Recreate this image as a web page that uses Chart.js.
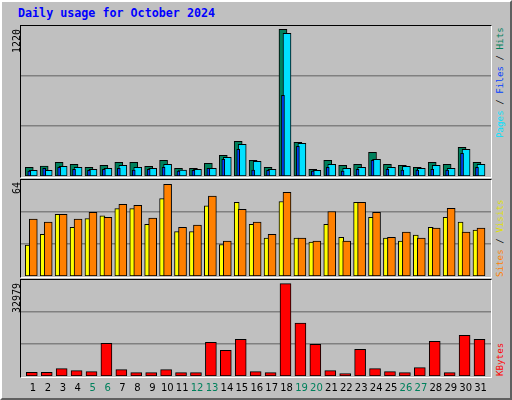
<!DOCTYPE html>
<html>
<head>
<meta charset="utf-8">
<script src="https://cdn.jsdelivr.net/npm/chart.js@4.4.0/dist/chart.umd.min.js"></script>
<style>
  body { margin: 0; background: #c0c0c0; }
  #frame { position: absolute; left: 0; top: 0; width: 508px; height: 396px;
           border-style: solid; border-width: 2px; border-color: #fff #606060 #606060 #fff; background: #c0c0c0; }
  .panel { position: absolute; left: 20px; width: 470px; border-style: solid; border-width: 1px;
           border-color: #000 #fff #fff #000; }
  .panel canvas { display: block; }
  .txt { position: absolute; font-family: "DejaVu Sans Mono", monospace; white-space: nowrap; }
  .up { transform-origin: 0 0; transform: rotate(-90deg); }
  .day { position: absolute; top: 382px; font-family: "DejaVu Sans", sans-serif; font-size: 10px; width: 20px; text-align: center; }
</style>
</head>
<body>
<div id="frame"></div>
<div class="txt" style="left:18px;top:6px;font-size:11.7px;font-weight:bold;color:#0000ff">Daily usage for October 2024</div>

<div class="panel" style="top:25px;height:151px"><canvas id="c1"></canvas></div>
<div class="panel" style="top:179px;height:97px"><canvas id="c2"></canvas></div>
<div class="panel" style="top:279px;height:97px"><canvas id="c3"></canvas></div>

<div class="txt up" style="left:11px;top:53px;font-size:10px">1220</div>
<div class="txt up" style="left:11px;top:194px;font-size:10px">64</div>
<div class="txt up" style="left:11px;top:313px;font-size:10px">32979</div>

<div class="txt up" style="left:494px;top:138px;font-size:9.2px"><span style="color:#00e0ff">Pages</span> / <span style="color:#0040ff">Files</span> / <span style="color:#00805c">Hits</span></div>
<div class="txt up" style="left:494px;top:277px;font-size:9.2px"><span style="color:#ff8000">Sites</span> / <span style="color:#e0e000">Visits</span></div>
<div class="txt up" style="left:494px;top:376px;font-size:9.2px;color:#ff0000">KBytes</div>

<div id="days"></div>

<script>
// valores
const dias = Array.from({length: 31}, (_, i) => i + 1);
const fimDeSemana = [5, 6, 12, 13, 19, 20, 26, 27];

const hits   = [72, 82, 114, 97, 72, 89, 114, 114, 80, 130, 64, 64, 105, 172, 288, 130, 72, 1220, 280, 56, 130, 89, 97, 197, 97, 89, 72, 114, 97, 239, 114];
const files  = [47, 47, 80, 72, 56, 64, 89, 72, 64, 97, 50, 56, 64, 155, 263, 122, 56, 1186, 272, 47, 97, 64, 72, 139, 72, 80, 64, 89, 64, 222, 97];
const pages  = [40, 64, 72, 56, 47, 56, 64, 50, 56, 72, 40, 47, 64, 139, 222, 50, 47, 670, 247, 40, 72, 40, 56, 130, 56, 50, 50, 56, 50, 189, 72];

const visits = [21.6, 29, 43, 34, 40, 42, 47, 47, 36, 54, 31, 31, 49, 22, 51.5, 36, 26.5, 52, 26.5, 23.7, 36, 27, 51.5, 41, 26.5, 24.4, 28.5, 34, 41, 37.6, 32];
const sites  = [39.7, 37.6, 43, 39.7, 44.5, 41, 50, 49.4, 40.4, 64, 34, 35.5, 55.7, 24.4, 46.6, 37.6, 29, 58.4, 26.5, 24.4, 45, 24.4, 51.5, 44.5, 27, 30.6, 26.5, 33.4, 47.3, 30.6, 33.4];

const kbytes = [1320, 1320, 2650, 1920, 1560, 11660, 2280, 1200, 1200, 2280, 1200, 1200, 12020, 9140, 13100, 1560, 1200, 32979, 18880, 11300, 1920, 840, 9500, 2650, 1560, 1200, 3000, 12380, 1200, 14550, 13100];

const X_MIN = 0.176, X_MAX = 31.67;

function pontos(valores, desloc) {
    return valores.map((v, i) => ({ x: dias[i] + desloc, y: v }));
}

function serie(valores, cor, desloc, largura, ordem) {
    return {
        data: pontos(valores, desloc),
        backgroundColor: cor,
        borderColor: '#000',
        borderWidth: 1,
        borderSkipped: false,
        barThickness: largura,
        grouped: false,
        order: ordem
    };
}

function criarGrafico(id, altura, maxY, datasets) {
    const canvas = document.getElementById(id);
    canvas.style.width = '470px';
    canvas.style.height = altura + 'px';
    return new Chart(canvas, {
        type: 'bar',
        data: { datasets: datasets },
        options: {
            responsive: false,
            animation: false,
            devicePixelRatio: 1,
            layout: { padding: 0 },
            plugins: { legend: { display: false }, tooltip: { enabled: false } },
            scales: {
                x: { type: 'linear', min: X_MIN, max: X_MAX, offset: false, display: false },
                y: {
                    min: 0, max: maxY,
                    border: { display: false },
                    grid: { color: '#808080', drawTicks: false, lineWidth: 1.5 },
                    ticks: { display: false },
                    afterBuildTicks: s => { s.ticks = [{ value: maxY / 3 }, { value: 2 * maxY / 3 }]; },
                    afterFit: s => { s.width = 0; }
                }
            }
        }
    });
}

criarGrafico('c1', 150, 1247, [
    serie(hits, '#00805c', -0.27, 8, 3),
    serie(files, '#00e0ff', 0, 8, 2),
    serie(pages, '#0040ff', -0.27, 3, 1)
]);
criarGrafico('c2', 96, 67, [
    serie(visits, '#ffff00', -0.37, 5, 2),
    serie(sites, '#ff8000', 0, 8, 1)
]);
criarGrafico('c3', 96, 34300, [
    serie(kbytes, '#ff0000', -0.1, 11, 1)
]);

// rótulos dos dias
const caixa = document.getElementById('days');
dias.forEach(d => {
    const el = document.createElement('div');
    el.className = 'day';
    el.textContent = d;
    el.style.left = (20.7 + (d - X_MIN) * 14.92 - 10) + 'px';
    el.style.color = fimDeSemana.includes(d) ? '#00805c' : '#000';
    caixa.appendChild(el);
});
</script>
</body>
</html>
